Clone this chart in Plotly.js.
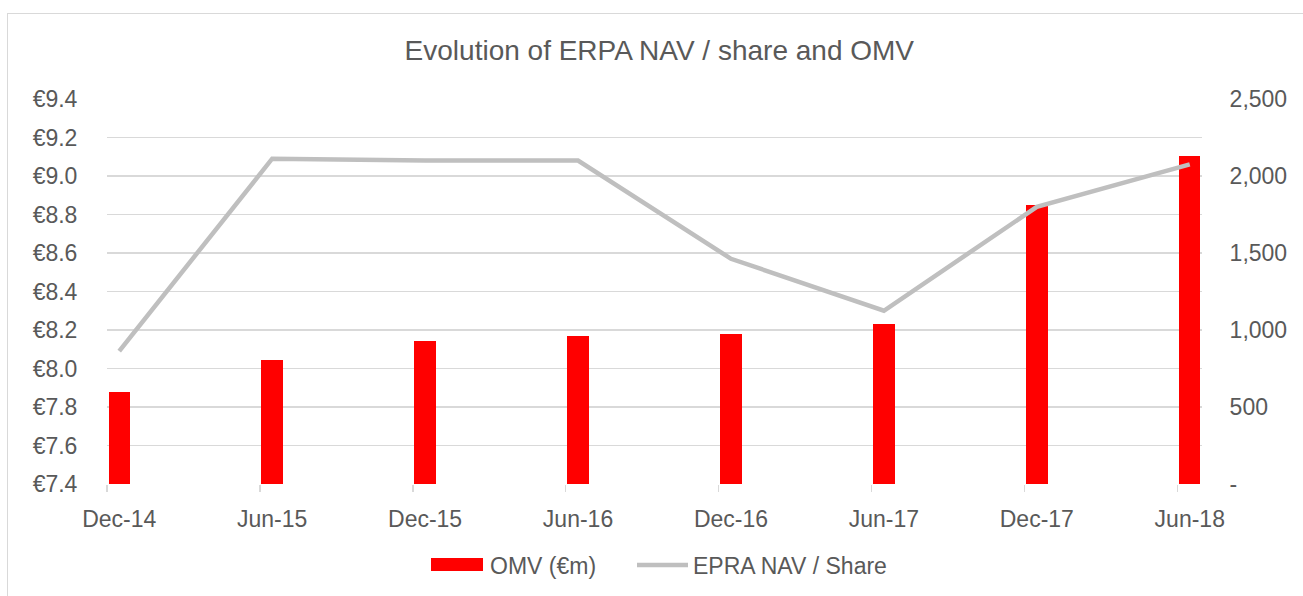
<!DOCTYPE html>
<html>
<head>
<meta charset="utf-8">
<script src="https://cdn.plot.ly/plotly-3.0.1.min.js"></script>
<style>
  html, body { margin: 0; padding: 0; background: #fff; }
  #wrap { position: relative; width: 1303px; height: 596px; overflow: hidden; }
  #chart { position: absolute; left: 0; top: 0; width: 1303px; height: 596px; }
  #frame { position: absolute; left: 7px; top: 13px; width: 1400px; height: 700px;
           border-left: 1.5px solid #d9d9d9; border-top: 1.5px solid #d9d9d9; pointer-events: none; }
</style>
</head>
<body>
<div id="wrap">
  <div id="chart"></div>
  <div id="frame"></div>
</div>
<script>
const categories = ["Dec-14", "Jun-15", "Dec-15", "Jun-16", "Dec-16", "Jun-17", "Dec-17", "Jun-18"];
const omv = [597, 807, 930, 958, 976, 1041, 1814, 2130];
const nav = [8.09, 9.09, 9.08, 9.08, 8.57, 8.30, 8.84, 9.06];
const navTicks = [7.4, 7.6, 7.8, 8.0, 8.2, 8.4, 8.6, 8.8, 9.0, 9.2, 9.4];
const navTickText = ["€7.4", "€7.6", "€7.8", "€8.0", "€8.2", "€8.4", "€8.6", "€8.8", "€9.0", "€9.2", "€9.4"];
const omvTicks = [0, 500, 1000, 1500, 2000, 2500];
const omvTickText = ["-", "500", "1,000", "1,500", "2,000", "2,500"];
const seriesNames = ["OMV (€m)", "EPRA NAV / Share"];

const txt = '#595959';
const grid = '#d9d9d9';
const barColor = '#ff0000';
const lineColor = '#bfbfbf';
const fontFam = 'Liberation Sans, Arial, sans-serif';

// plot area geometry (pixels) used to place the hand-drawn legend
const M = { l: 107, r: 101, t: 99, b: 112 };
const W = 1303, H = 596;
const PW = W - M.l - M.r, PH = H - M.t - M.b;
const px = v => (v - M.l) / PW;
const py = v => (H - M.b - v) / PH;

const traces = [
  {
    type: 'bar', name: seriesNames[0], x: categories, y: omv,
    xaxis: 'x', yaxis: 'y', width: 0.14,
    marker: { color: barColor }, showlegend: false
  },
  {
    type: 'scatter', mode: 'lines', name: seriesNames[1], x: categories, y: nav,
    xaxis: 'x', yaxis: 'y2',
    line: { color: lineColor, width: 4.5 }, showlegend: false
  },
  {
    type: 'scatter', mode: 'markers', x: [0], y: [0], xaxis: 'x2', yaxis: 'y',
    marker: { opacity: 0 }, showlegend: false, hoverinfo: 'skip'
  }
];

const layout = {
  width: W, height: H,
  margin: M,
  paper_bgcolor: '#ffffff', plot_bgcolor: '#ffffff',
  font: { family: fontFam, color: txt, size: 23 },
  title: {
    text: 'Evolution of ERPA NAV / share and OMV',
    font: { family: fontFam, size: 28, color: txt },
    x: 0.506, xanchor: 'center', y: 0.916, yanchor: 'middle', xref: 'container', yref: 'container'
  },
  showlegend: false,
  xaxis: {
    type: 'category', range: [-0.08, categories.length - 1 + 0.08],
    showgrid: false, zeroline: false, showline: false,
    ticks: 'outside', ticklen: 14, tickcolor: 'rgba(0,0,0,0)',
    tickfont: { family: fontFam, size: 23, color: txt }
  },
  xaxis2: {
    overlaying: 'x', anchor: 'y', side: 'bottom', type: 'linear',
    range: [-0.08, categories.length - 1 + 0.08],
    tickmode: 'array', tickvals: categories.map((c, i) => i - 0.08),
    showticklabels: false, ticks: 'outside', ticklen: 7, tickcolor: grid, tickwidth: 1.3,
    showgrid: false, zeroline: false, showline: false
  },
  yaxis: {
    side: 'right', range: [0, 2500], tickmode: 'array', tickvals: omvTicks, ticktext: omvTickText,
    showgrid: true, gridcolor: grid, gridwidth: 1.3, zeroline: false, showline: false,
    minor: { dtick: 250, showgrid: true, gridcolor: grid, gridwidth: 1.3 },
    ticks: 'outside', ticklen: 22, tickcolor: 'rgba(0,0,0,0)',
    tickfont: { family: fontFam, size: 23, color: txt }
  },
  yaxis2: {
    overlaying: 'y', side: 'left', range: [7.4, 9.4], tickmode: 'array',
    tickvals: navTicks, ticktext: navTickText,
    showgrid: false, zeroline: false, showline: false,
    ticks: 'outside', ticklen: 24, tickcolor: 'rgba(0,0,0,0)',
    tickfont: { family: fontFam, size: 23, color: txt }
  },
  shapes: [
    { type: 'rect', xref: 'paper', yref: 'paper', x0: px(431), x1: px(483), y0: py(571), y1: py(558),
      fillcolor: barColor, line: { width: 0 } },
    { type: 'line', xref: 'paper', yref: 'paper', x0: px(637), x1: px(688), y0: py(565), y1: py(565),
      line: { color: lineColor, width: 4.5 } }
  ],
  annotations: [
    { xref: 'paper', yref: 'paper', x: px(488), y: py(566), xanchor: 'left', yanchor: 'middle',
      text: seriesNames[0], showarrow: false, font: { family: fontFam, size: 23, color: txt } },
    { xref: 'paper', yref: 'paper', x: px(691), y: py(566), xanchor: 'left', yanchor: 'middle',
      text: seriesNames[1], showarrow: false, font: { family: fontFam, size: 23, color: txt } }
  ],
  bargap: 0
};

Plotly.newPlot('chart', traces, layout, { displayModeBar: false, staticPlot: true });
</script>
</body>
</html>
